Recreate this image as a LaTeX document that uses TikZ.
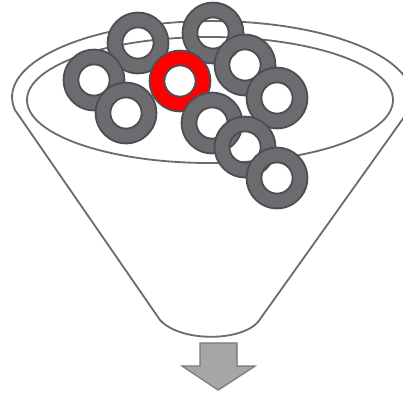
\documentclass[tikz,border=0pt]{standalone}
\usepackage{tikz}
\usetikzlibrary{shadows}
\definecolor{funLine}{RGB}{108,108,110}
\definecolor{ringFill}{RGB}{108,108,112}
\definecolor{ringLine}{RGB}{78,78,80}
\definecolor{ringRed}{RGB}{255,0,0}
\definecolor{arFill}{RGB}{166,166,166}
\definecolor{arLine}{RGB}{120,120,120}
\begin{document}
\begin{tikzpicture}[x=0.25mm,y=-0.25mm,
  funnel/.style={draw=funLine,line width=1.3pt,line join=round},
  ring/.style={draw=ringLine,fill=#1,line width=1.3pt,even odd rule},
  outarrow/.style={draw=arLine,fill=arFill,line width=0.8pt,line join=miter,
    drop shadow={shadow xshift=0.6pt,shadow yshift=-0.8pt,opacity=0.25}}]
\useasboundingbox (0,0) rectangle (403,395);
\clip (0,0) rectangle (403,395);
% funnel body and rim
\coordinate (rimL) at (15,110);
\coordinate (botL) at (160,320);
\coordinate (botR) at (258,322);
\draw[funnel] (rimL) arc[start angle=170.2,end angle=369.8,x radius=200,y radius=76]
  -- (botR) .. controls (240,342) and (180,342) .. (botL) -- cycle;
\coordinate (rimC) at (210,100);
\draw[funnel] (rimC) ellipse[x radius=183,y radius=63];
% rings, back to front
\foreach \x/\y/\c [count=\i] in {213/33/ringFill,138/43/ringFill,245/65/ringFill,
    94/80/ringFill,180/81/ringRed,277/98/ringFill,126/113/ringFill,
    212/123/ringFill,245/147/ringFill,277/178/ringFill}{
  \coordinate (ring\i) at (\x,\y);
  \path[ring=\c] (ring\i) circle[radius=7.6mm] (ring\i) circle[radius=3.9mm];
}
% output arrow
\draw[outarrow] (200,343) -- (237,343) -- (237,366) -- (255,366) -- (218,390)
  -- (182,366) -- (200,366) -- cycle;
\end{tikzpicture}
\end{document}
